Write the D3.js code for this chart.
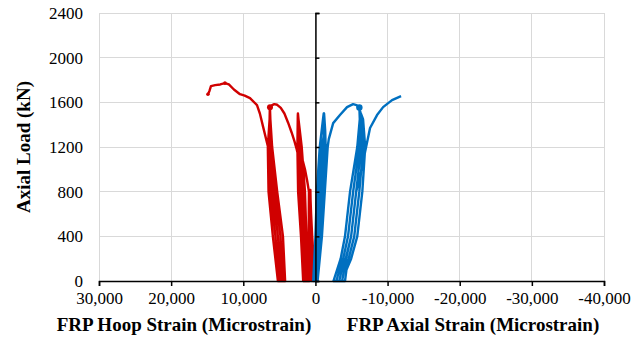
<!DOCTYPE html>
<html><head><meta charset="utf-8">
<script src="https://cdn.jsdelivr.net/npm/d3@7"></script>
<style>body{margin:0;background:#fff}svg{display:block}</style>
</head><body><svg id="c" width="631" height="343"></svg>
<script>
const xTicks = [30000,20000,10000,0,-10000,-20000,-30000,-40000];
const yTicks = [0,400,800,1200,1600,2000,2400];
// FRP hoop strain (microstrain), axial load (kN)
const hoopData = [
[0,0],[250,200],[450,400],[600,600],[720,800],[700,815],
[640,600],[520,300],[350,0],[500,250],[650,550],[780,800],
[760,600],[680,300],[600,0],[750,300],[850,600],[850,810],
[850,600],[820,300],[850,0],[950,300],[920,600],[900,800],
[1150,900],[1450,1000],[1850,1100],[2100,1160],[2300,1250],[2400,1400],[2430,1500],
[2400,1450],[2200,1200],[1925,800],[1625,400],[1350,0],
[1000,0],[1250,400],[1450,800],[1900,1200],[2350,1450],[2420,1500],
[2425,1450],[2350,1200],[2160,800],[1810,400],[1525,0],
[1175,0],[1440,400],[1690,800],[2050,1200],[2375,1450],[2440,1490],
[2450,1450],[2500,1200],[2400,800],[2000,400],[1700,0],
[1350,0],[1625,400],[1925,800],[2300,1100],[2600,1180],
[2900,1250],[3300,1330],[3800,1420],[4300,1500],[4800,1550],[5300,1578],[5700,1584],[6000,1575],[6300,1557],
[6300,1450],[6300,1200],[5900,800],[5200,400],[4700,0],
[4200,0],[4500,400],[5300,800],[6000,1200],[6250,1450],[6300,1550],
[6325,1450],[6450,1200],[6200,800],[5550,400],[4950,0],
[4450,0],[4850,400],[5600,800],[6150,1200],[6275,1450],[6320,1560],
[6350,1450],[6600,1200],[6500,800],[5900,400],[5200,0],
[4700,0],[5200,400],[5900,800],[6100,990],
[6570,1200],[7250,1380],[7700,1500],[8100,1575],[9070,1638],[9800,1660],[10460,1673],[11300,1715],[12000,1760],[12540,1772],
[13200,1760],[13900,1754],[14480,1745],[14700,1700],[14900,1673]
];
// FRP axial strain (microstrain), axial load (kN)
const axialData = [
[0,0],[-150,300],[-350,600],[-500,800],[-300,450],[100,0],
[300,0],[0,400],[-200,800],[-600,1200],[-1050,1450],[-1150,1500],
[-1150,1300],[-880,1200],[-480,800],[-220,400],[150,0],
[0,0],[-450,400],[-750,800],[-1150,1200],[-1250,1450],[-1200,1500],
[-1350,1350],[-1420,1200],[-1030,800],[-680,400],[-150,0],
[-300,0],[-900,400],[-1300,800],[-1700,1200],
[-1850,1270],[-2460,1414],[-3400,1486],[-4380,1557],[-5220,1584],[-5700,1575],[-6090,1554],
[-6150,1450],[-6350,1200],[-5650,800],[-4950,400],[-4200,200],[-3650,100],[-3300,0],
[-2500,0],[-3000,100],[-3500,200],[-4100,400],[-4800,800],[-5800,1200],[-6150,1450],[-6200,1520],
[-6490,1450],[-6630,1200],[-6080,800],[-5380,400],[-4600,200],[-3980,100],[-3700,0],
[-2900,0],[-3330,100],[-3850,200],[-4520,400],[-5230,800],[-6080,1200],[-6260,1450],[-6300,1500],
[-6600,1450],[-6900,1200],[-6500,800],[-5800,400],[-4950,200],[-4300,100],[-4100,0],
[-3300,0],[-3650,100],[-4250,200],[-4950,400],[-5650,800],[-6400,1000],
[-6880,1155],[-7570,1370],[-8540,1486],[-9380,1557],[-10620,1620],[-11870,1656]
];
const hoopMarkers = [[6300,1557],[12540,1772],[14900,1673]];
const axialMarkers = [[-6090,1554]];

const svg = d3.select('#c');
const x = d3.scaleLinear().domain([30000,-40000]).range([99,604]);
const y = d3.scaleLinear().domain([0,2400]).range([281,13]);
const font = "'Liberation Serif','Times New Roman',serif";

// gridlines
svg.append('g').selectAll('line').data(xTicks).join('line')
  .attr('x1',d=>x(d)).attr('x2',d=>x(d)).attr('y1',y(0)).attr('y2',y(2400))
  .attr('stroke','#d9d9d9').attr('stroke-width',1).attr('shape-rendering','crispEdges');
svg.append('g').selectAll('line').data(yTicks).join('line')
  .attr('x1',x(30000)).attr('x2',x(-40000)).attr('y1',d=>y(d)).attr('y2',d=>y(d))
  .attr('stroke','#d9d9d9').attr('stroke-width',1).attr('shape-rendering','crispEdges');

// data lines
const line = d3.line().x(d=>x(d[0])).y(d=>y(d[1]));
svg.append('path').datum(hoopData).attr('d',line).attr('fill','none')
  .attr('stroke','#d00000').attr('stroke-width',2.4).attr('stroke-linejoin','round');
svg.append('path').datum(axialData).attr('d',line).attr('fill','none')
  .attr('stroke','#0070c0').attr('stroke-width',2.4).attr('stroke-linejoin','round');
svg.append('g').selectAll('circle').data(hoopMarkers).join('circle')
  .attr('cx',d=>x(d[0])).attr('cy',d=>y(d[1])).attr('r',(d,i)=>i===0?3:1.8).attr('fill','#d00000');
svg.append('g').selectAll('circle').data(axialMarkers).join('circle')
  .attr('cx',d=>x(d[0])).attr('cy',d=>y(d[1])).attr('r',3.2).attr('fill','#0070c0');

// x axis
const fmt = d3.format(',');
const xAxis = d3.axisBottom(x).tickValues(xTicks).tickSize(5).tickFormat(d=>fmt(d).replace('\u2212','-'));
const gx = svg.append('g').attr('transform',`translate(0,${y(0)})`).call(xAxis);
gx.attr('font-family',font);
gx.select('.domain').attr('stroke','#000').attr('stroke-width',1.5);
gx.selectAll('.tick line').attr('stroke','#000').attr('stroke-width',1.5);
gx.selectAll('.tick text').attr('font-family',font).attr('font-size',17).attr('fill','#000').attr('dy','0.9em');

// y axis at x=0
const yAxis = d3.axisRight(y).tickValues(yTicks).tickSize(4).tickFormat('');
const gy = svg.append('g').attr('transform',`translate(${x(0)},0)`).call(yAxis);
gy.select('.domain').attr('stroke','#000').attr('stroke-width',1.5);
gy.selectAll('.tick line').attr('stroke','#000').attr('stroke-width',1.5);

// y tick labels at left
svg.append('g').selectAll('text').data(yTicks).join('text')
  .attr('x',83).attr('y',d=>y(d)).attr('dy','0.35em').attr('text-anchor','end')
  .attr('font-family',font).attr('font-size',17).attr('fill','#000').text(d=>d);

// titles
svg.append('text').attr('transform','translate(30,147) rotate(-90)').attr('text-anchor','middle')
  .attr('font-family',font).attr('font-size',19).attr('font-weight','bold').text('Axial Load (kN)');
svg.append('text').attr('x',184).attr('y',331).attr('text-anchor','middle')
  .attr('font-family',font).attr('font-size',19).attr('font-weight','bold').text('FRP Hoop Strain (Microstrain)');
svg.append('text').attr('x',473).attr('y',331).attr('text-anchor','middle')
  .attr('font-family',font).attr('font-size',19).attr('font-weight','bold').text('FRP Axial Strain (Microstrain)');
</script></body></html>
